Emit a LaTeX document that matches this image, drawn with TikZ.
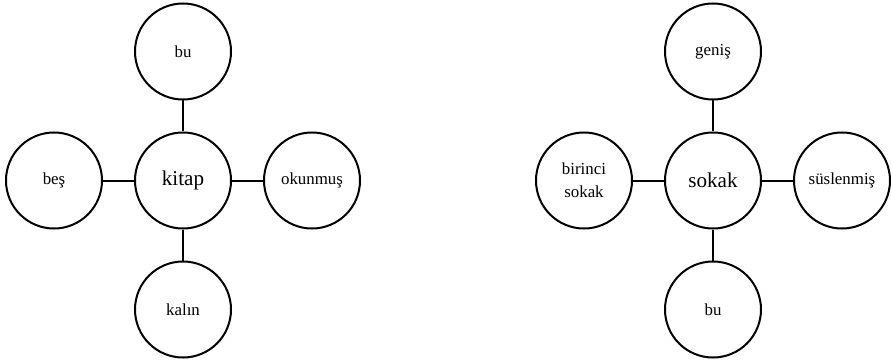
\documentclass[tikz,border=0pt]{standalone}
\usepackage{fontspec}
\setmainfont{Liberation Serif}
\usetikzlibrary{positioning}

\begin{document}
\begin{tikzpicture}[
    x=0.03cm, y=-0.03cm,
    % --- STYLES ---
    word/.style={
        circle, draw=black, fill=white,
        line width=0.06cm,
        minimum size=2.88cm, inner sep=0pt,
        align=center,
        font=\fontsize{14.4}{20}\selectfont
    },
    root/.style={word, font=\fontsize{18}{22}\selectfont},
    link/.style={line width=0.06cm}
]
\useasboundingbox (0,0) rectangle (891,364);

% ===== 1. COORDINATES =====
\def\xKitap{183}
\def\xSokak{713}
\def\yRoot{180.5}

% ===== 2. LEFT TREE: kitap =====
\node[root] (kitap) at (\xKitap, \yRoot) {kitap};
\node[word, above=0.93cm of kitap] (k_up) {bu};
\node[word, below=0.93cm of kitap] (k_down) {kalın};
\node[word, left=0.93cm of kitap] (k_left) {beş};
\node[word, right=0.93cm of kitap] (k_right) {okunmuş};

% ===== 3. RIGHT TREE: sokak =====
\node[root] (sokak) at (\xSokak, \yRoot) {sokak};
\node[word, above=0.93cm of sokak] (s_up) {geniş};
\node[word, below=0.93cm of sokak] (s_down) {bu};
\node[word, left=0.93cm of sokak] (s_left) {birinci\\ sokak};
\node[word, right=0.93cm of sokak] (s_right) {süslenmiş};

% ===== 4. CONNECTIONS =====
\draw[link] (kitap) -- (k_up);
\draw[link] (kitap) -- (k_down);
\draw[link] (kitap) -- (k_left);
\draw[link] (kitap) -- (k_right);

\draw[link] (sokak) -- (s_up);
\draw[link] (sokak) -- (s_down);
\draw[link] (sokak) -- (s_left);
\draw[link] (sokak) -- (s_right);

\end{tikzpicture}
\end{document}
